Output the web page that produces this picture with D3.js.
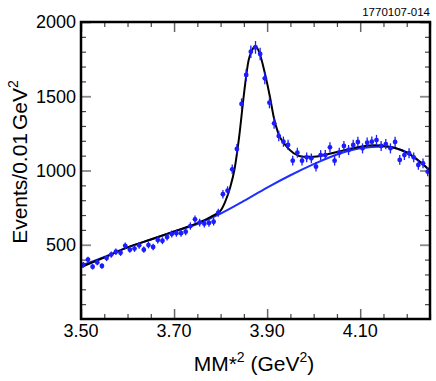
<!DOCTYPE html>
<html>
<head>
<meta charset="utf-8">
<script src="https://cdn.jsdelivr.net/npm/d3@7"></script>
<style>
  html, body { margin: 0; padding: 0; background: #fff; }
  svg { display: block; font-family: "Liberation Sans", Arial, Helvetica, sans-serif; }
</style>
</head>
<body>
<div id="chart"></div>
<script>
// bin layout: 0.01 GeV^2 bins starting at 3.50
const binStart = 3.50;
const binWidth = 0.01;

// events per bin
const counts = [
  364, 400, 352, 381, 357, 410, 434, 453, 446, 493,
  467, 474, 496, 467, 498, 485, 532, 527, 552, 572,
  578, 578, 588, 626, 671, 649, 642, 647, 655, 716,
  840, 864, 1008, 1145, 1448, 1643, 1800, 1829, 1785, 1621,
  1457, 1318, 1232, 1194, 1172, 1066, 1120, 1066, 1089, 1082,
  1026, 1104, 1104, 1156, 1066, 1120, 1165, 1138, 1172, 1192,
  1149, 1187, 1194, 1205, 1165, 1178, 1149, 1192, 1071, 1104,
  1116, 1089, 1037, 1048, 992
];

// background curve (blue)
const bkgX = [3.50, 3.55, 3.60, 3.65, 3.70, 3.75, 3.80, 3.85, 3.90, 3.95, 4.00, 4.05, 4.10, 4.15, 4.20, 4.25];
const bkgY = [360, 418, 482, 535, 588, 640, 710, 795, 885, 968, 1043, 1108, 1150, 1162, 1120, 1000];

// total fit (black)
const fitX = [3.50, 3.55, 3.60, 3.65, 3.70, 3.75, 3.78, 3.80, 3.81, 3.82, 3.83, 3.84, 3.85, 3.86, 3.867,
  3.875, 3.885, 3.896, 3.906, 3.914, 3.924, 3.939, 3.957, 3.978, 4.00, 4.05, 4.10, 4.13, 4.16, 4.20, 4.25];
const fitY = [350, 414, 482, 535, 590, 646, 690, 730, 790, 880, 1010, 1230, 1510, 1740, 1805,
  1838, 1778, 1643, 1497, 1362, 1250, 1172, 1116, 1093, 1093, 1125, 1160, 1170, 1162, 1122, 1000];

const xMajor = [3.50, 3.70, 3.90, 4.10];
const yMajor = [500, 1000, 1500, 2000];

const width = 436;
const height = 381;
const margin = { top: 22, right: 6, bottom: 62, left: 81 };
const blue = '#1c1cff';

const svg = d3.select('#chart').append('svg')
  .attr('width', width).attr('height', height);

const x = d3.scaleLinear().domain([3.5, 4.25]).range([margin.left, width - margin.right]);
const y = d3.scaleLinear().domain([0, 2000]).range([height - margin.bottom, margin.top]);

const xMinor = d3.range(3.5, 4.2501, 0.05).filter((v) => !xMajor.some((m) => Math.abs(m - v) < 1e-6));
const yMinor = d3.range(100, 2000, 100).filter((v) => v % 500 !== 0);

function ticks(axis, vals, size, color, w) {
  const g = svg.append('g').call(axis.tickValues(vals).tickSize(size).tickFormat(''));
  g.select('.domain').remove();
  g.selectAll('line').attr('stroke', color).attr('stroke-width', w);
  return g;
}

const x0 = margin.left, x1 = width - margin.right;
const y0 = height - margin.bottom, y1 = margin.top;

// inward ticks on all four sides
ticks(d3.axisTop(x).scale(x), xMinor, 5, '#444', 1.2).attr('transform', `translate(0,${y0})`);
ticks(d3.axisTop(x), xMajor, 10, '#666', 1.5).attr('transform', `translate(0,${y0})`);
ticks(d3.axisBottom(x), xMinor, 5, '#444', 1.2).attr('transform', `translate(0,${y1})`);
ticks(d3.axisBottom(x), xMajor, 10, '#666', 1.5).attr('transform', `translate(0,${y1})`);
ticks(d3.axisRight(y), yMinor, 5, '#444', 1.2).attr('transform', `translate(${x0},0)`);
ticks(d3.axisRight(y), yMajor, 10, '#888', 1.8).attr('transform', `translate(${x0},0)`);
ticks(d3.axisLeft(y), yMinor, 5, '#444', 1.2).attr('transform', `translate(${x1},0)`);
ticks(d3.axisLeft(y), yMajor, 10, '#888', 1.8).attr('transform', `translate(${x1},0)`);

// tick labels
svg.append('g').selectAll('text').data(xMajor).join('text')
  .attr('x', (d) => x(d)).attr('y', y0 + 18).attr('text-anchor', 'middle')
  .attr('font-size', 18).text((d) => d.toFixed(2));
svg.append('g').selectAll('text').data(yMajor).join('text')
  .attr('x', x0 - 5).attr('y', (d) => y(d)).attr('dy', '0.35em').attr('text-anchor', 'end')
  .attr('font-size', 18).text((d) => d);

// curves
const plot = svg.append('g');
plot.append('path')
  .datum(bkgX.map((v, i) => [v, bkgY[i]]))
  .attr('fill', 'none').attr('stroke', '#1f2fff').attr('stroke-width', 2)
  .attr('d', d3.line().x((d) => x(d[0])).y((d) => y(d[1])).curve(d3.curveMonotoneX));
plot.append('path')
  .datum(fitX.map((v, i) => [v, fitY[i]]))
  .attr('fill', 'none').attr('stroke', '#000').attr('stroke-width', 2)
  .attr('d', d3.line().x((d) => x(d[0])).y((d) => y(d[1])).curve(d3.curveMonotoneX));

// data points with poisson errors
const pts = counts.map((n, i) => ({ m: binStart + binWidth * (i + 0.5), n, e: Math.sqrt(n) }));
plot.append('g').selectAll('line').data(pts).join('line')
  .attr('x1', (d) => x(d.m)).attr('x2', (d) => x(d.m))
  .attr('y1', (d) => y(d.n - d.e)).attr('y2', (d) => y(d.n + d.e))
  .attr('stroke', blue).attr('stroke-width', 1.3);
plot.append('g').selectAll('circle').data(pts).join('circle')
  .attr('cx', (d) => x(d.m)).attr('cy', (d) => y(d.n)).attr('r', 2.4)
  .attr('fill', blue);

// frame
svg.append('rect').attr('x', x0).attr('y', y1).attr('width', x1 - x0).attr('height', y0 - y1)
  .attr('fill', 'none').attr('stroke', '#000').attr('stroke-width', 2.5);

// axis titles
const xt = svg.append('text').attr('x', 254).attr('y', 371).attr('text-anchor', 'middle').attr('font-size', 21);
xt.append('tspan').text('MM*');
xt.append('tspan').attr('font-size', 14).attr('dy', -9).text('2');
xt.append('tspan').attr('dy', 9).text(' (GeV');
xt.append('tspan').attr('font-size', 14).attr('dy', -9).text('2');
xt.append('tspan').attr('dy', 9).text(')');

const yt = svg.append('text').attr('transform', 'translate(27,162) rotate(-90)')
  .attr('text-anchor', 'middle').attr('font-size', 21);
yt.append('tspan').text('Events/0.01');
yt.append('tspan').attr('dx', 3).text('GeV');
yt.append('tspan').attr('font-size', 14).attr('dy', -9).text('2');

svg.append('text').attr('x', 430).attr('y', 16).attr('text-anchor', 'end')
  .attr('font-size', 11.5).text('1770107-014');
</script>
</body>
</html>
